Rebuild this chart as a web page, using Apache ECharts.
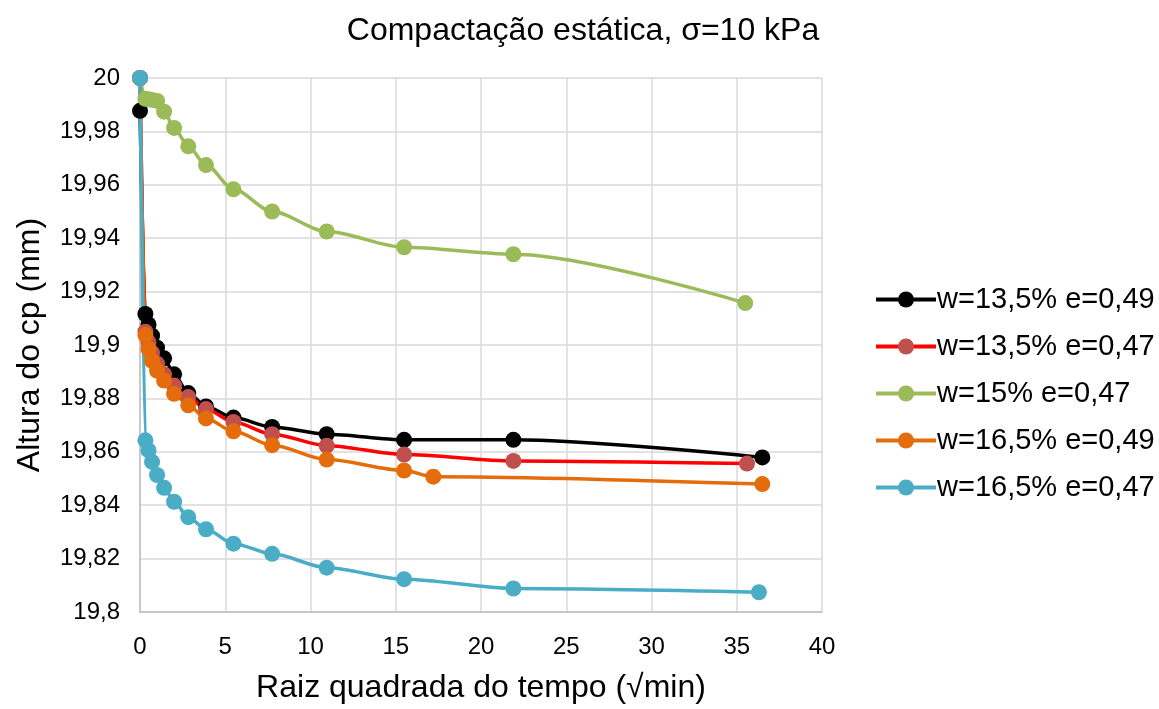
<!DOCTYPE html>
<html>
<head>
<meta charset="utf-8">
<script src="https://cdn.jsdelivr.net/npm/echarts@6/dist/echarts.min.js"></script>
<style>
    html, body {margin: 0; padding: 0; background: #fff;}
    #echarts {width: 1159px; height: 709px;}
</style>
</head>
<body>
<div id="echarts"></div>
<script>
// raiz do tempo (√min) e altura do cp (mm)
var xBlack = [0, 0.316, 0.5, 0.707, 1, 1.414, 2, 2.83, 3.87, 5.48, 7.75, 10.95, 15.49, 21.9, 36.5];
var yBlack = [19.9877, 19.9116, 19.9077, 19.9035, 19.899, 19.895, 19.889, 19.882, 19.877, 19.8728, 19.8693, 19.8666, 19.8645, 19.8645, 19.8579];

var xRed = [0, 0.316, 0.5, 0.707, 1, 1.414, 2, 2.83, 3.87, 5.48, 7.75, 10.95, 15.49, 21.9, 35.6];
var yRed = [20, 19.905, 19.901, 19.897, 19.893, 19.889, 19.8848, 19.8805, 19.876, 19.8712, 19.8666, 19.8623, 19.859, 19.8566, 19.8556];

var xGreen = [0, 0.316, 0.5, 0.707, 1, 1.414, 2, 2.83, 3.87, 5.48, 7.75, 10.95, 15.49, 21.9, 35.5];
var yGreen = [20, 19.9922, 19.992, 19.9918, 19.9914, 19.9874, 19.9813, 19.9744, 19.9674, 19.9583, 19.95, 19.9425, 19.9366, 19.934, 19.9157];

var xOrange = [0, 0.316, 0.5, 0.707, 1, 1.414, 2, 2.83, 3.87, 5.48, 7.75, 10.95, 15.49, 17.2, 36.5];
var yOrange = [20, 19.9037, 19.8985, 19.8941, 19.8904, 19.8867, 19.8817, 19.8774, 19.8725, 19.8677, 19.8625, 19.8571, 19.853, 19.8507, 19.8479];

var xBlue = [0, 0.316, 0.5, 0.707, 1, 1.414, 2, 2.83, 3.87, 5.48, 7.75, 10.95, 15.49, 21.9, 36.3];
var yBlue = [20, 19.8643, 19.8605, 19.8562, 19.8513, 19.8465, 19.8413, 19.8355, 19.831, 19.8256, 19.8218, 19.8166, 19.8123, 19.8088, 19.8074];

var seriesNames = ['w=13,5% e=0,49', 'w=13,5% e=0,47', 'w=15% e=0,47', 'w=16,5% e=0,49', 'w=16,5% e=0,47'];

function zip(xs, ys) {
    return xs.map(function (x, i) {
        return [x, ys[i]];
    });
}

function makeSeries(name, xs, ys, lineColor, dotColor) {
    return {
        name: name,
        type: 'line',
        data: zip(xs, ys),
        smooth: 0.3,
        smoothMonotone: 'x',
        symbol: 'circle',
        symbolSize: 16,
        showAllSymbol: true,
        itemStyle: {color: dotColor},
        lineStyle: {color: lineColor, width: 3.5},
        emphasis: {disabled: true}
    };
}

var font = 'Liberation Sans, Arial, sans-serif';

var myChart = echarts.init(document.getElementById('echarts'));
myChart.setOption({
    animation: false,
    textStyle: {fontFamily: font},
    title: {
        text: 'Compactação estática, σ=10 kPa',
        left: 578,
        textAlign: 'center',
        top: 10,
        textStyle: {fontFamily: font, fontSize: 32, fontWeight: 'normal', color: '#000'}
    },
    grid: {left: 140, right: 337, top: 78, bottom: 95},
    legend: {
        orient: 'vertical',
        left: 869,
        top: 280,
        itemGap: 18,
        itemWidth: 60,
        itemHeight: 20,
        lineStyle: {width: 4},
        textStyle: {fontFamily: font, fontSize: 29, color: '#000', padding: [0, 0, 0, -4]},
        data: seriesNames
    },
    xAxis: {
        type: 'value',
        min: 0,
        max: 40,
        interval: 5,
        name: 'Raiz quadrada do tempo (√min)',
        nameLocation: 'middle',
        nameGap: 60,
        nameTextStyle: {fontFamily: font, fontSize: 32, color: '#000'},
        axisLine: {lineStyle: {color: '#bfbfbf', width: 1.5}},
        axisTick: {show: false},
        axisLabel: {fontFamily: font, fontSize: 24, color: '#000', margin: 23},
        splitLine: {lineStyle: {color: '#d9d9d9', width: 1.5}}
    },
    yAxis: {
        type: 'value',
        min: 19.8,
        max: 20,
        interval: 0.02,
        name: 'Altura do cp (mm)',
        nameLocation: 'middle',
        nameGap: 94,
        nameTextStyle: {fontFamily: font, fontSize: 32, color: '#000'},
        axisLine: {show: true, lineStyle: {color: '#bfbfbf', width: 1.5}},
        axisTick: {show: false},
        axisLabel: {
            fontFamily: font,
            fontSize: 24,
            color: '#000',
            margin: 20,
            formatter: function (v) {
                return String(+v.toFixed(2)).replace('.', ',');
            }
        },
        splitLine: {lineStyle: {color: '#d9d9d9', width: 1.5}}
    },
    series: [
        makeSeries(seriesNames[0], xBlack, yBlack, '#000000', '#000000'),
        makeSeries(seriesNames[1], xRed, yRed, '#FF0000', '#C0504D'),
        makeSeries(seriesNames[2], xGreen, yGreen, '#9BBB59', '#9BBB59'),
        makeSeries(seriesNames[3], xOrange, yOrange, '#E46C0A', '#E46C0A'),
        makeSeries(seriesNames[4], xBlue, yBlue, '#4BACC6', '#4BACC6')
    ]
});
</script>
</body>
</html>
